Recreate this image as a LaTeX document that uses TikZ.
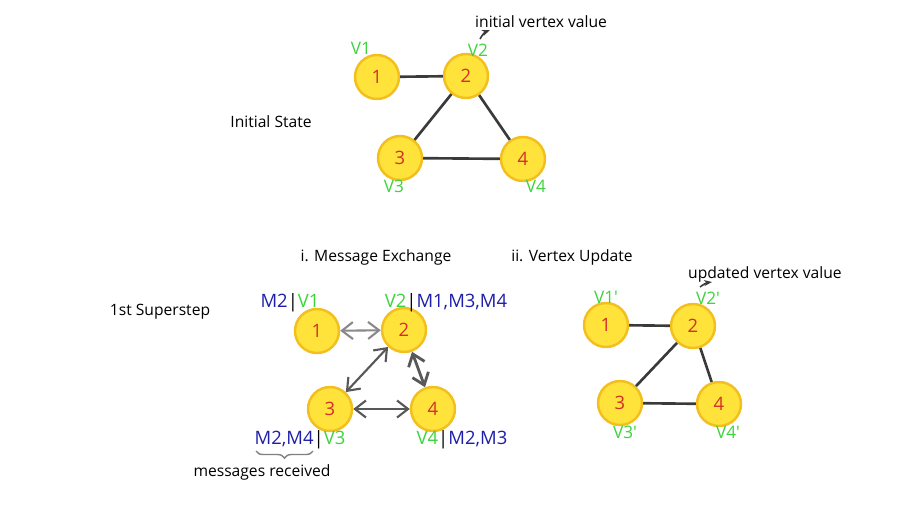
\documentclass[tikz,border=0pt]{standalone}
\usepackage{fontspec}
\setmainfont{Open Sans}
\usetikzlibrary{arrows.meta,positioning,decorations.pathreplacing}
\definecolor{vyellow}{HTML}{FFE33A}
\definecolor{vrim}{HTML}{F2BF1F}
\definecolor{vred}{HTML}{D3302A}
\definecolor{vgreen}{HTML}{3DD43D}
\definecolor{vblue}{HTML}{1E1EA8}
\definecolor{edgegray}{HTML}{3A3A3A}
\newcommand{\gv}[1]{\textcolor{vgreen}{#1}}
\newcommand{\bm}[1]{\textcolor{vblue}{#1}}

\begin{document}
\begin{tikzpicture}[
  x=0.02cm, y=-0.02cm, >={Straight Barb[length=2.2mm,width=3.4mm]},
  every node/.style={font=\fontsize{8.9}{10}\selectfont},
  vertex/.style={circle, draw=vrim, line width=1.4pt, fill=vyellow,
                 minimum size=8.8mm, inner sep=0pt, text=vred,
                 font=\fontsize{10.5}{12}\selectfont},
  edge/.style={draw=edgegray, line width=1.5pt},
  msg/.style={draw=edgegray!85, line width=1.2pt, <->},
  vlab/.style={text=vgreen, font=\fontsize{9.8}{12}\selectfont},
  mlab/.style={font=\fontsize{10.5}{12}\selectfont}
]
  \useasboundingbox (0,0) rectangle (920,525);

  % initial state
  \node (init) at (271,122) {Initial State};
  \foreach \n/\x/\y in {1/377/77, 2/466/76, 3/400/158, 4/523/159}
    \node[vertex] (a\n) at (\x,\y) {\n};
  \foreach \n/\x/\y in {1/361/48, 2/478/50, 3/394/186, 4/536/186}
    \node[vlab] (va\n) at (\x,\y) {V\n};
  \draw[edge] (a1) -- (a2);
  \draw[edge] (a2) -- (a3);
  \draw[edge] (a2) -- (a4);
  \draw[edge] (a3) -- (a4);
  \node[anchor=west] (ival) at (469,22) {initial vertex value};
  \coordinate (ip) at (480,39);
  \draw[-{Stealth[length=1.6mm]}, edgegray, line width=0.9pt] (ip) to[bend left=20] (490,30);

  % 1st superstep
  \node (step) at (160,312) {1st Superstep};
  \node (mex) at (376,257) {i. Message Exchange};
  \foreach \n/\x/\y in {1/317/331, 2/404/330, 3/330/409, 4/433/409}
    \node[vertex] (b\n) at (\x,\y) {\n};
  \node[mlab] (lb1) at (290,303) {\bm{M2}|\gv{V1}};
  \node[mlab] (lb2) at (446,303) {\gv{V2}|\bm{M1,M3,M4}};
  \node[mlab] (lb3) at (300,440) {\bm{M2,M4}|\gv{V3}};
  \node[mlab] (lb4) at (462,440) {\gv{V4}|\bm{M2,M3}};
  \draw[msg, edgegray!60] (b1) -- (b2);
  \draw[msg] (b2) -- (b3);
  \draw[msg, line width=1.6pt] (b2) -- (b4);
  \draw[msg] (b3) -- (b4);
  \coordinate (br1) at (256,451);
  \coordinate (br2) at (313,451);
  \draw[decorate, decoration={brace, mirror, amplitude=4pt}, gray, line width=0.8pt] (br1) -- (br2);
  \node (recv) at (262,472) {messages received};

  % vertex update
  \node (vup) at (572,257) {ii. Vertex Update};
  \foreach \n/\x/\y in {1/606/325, 2/693/326, 3/620/403, 4/719/404}
    \node[vertex] (c\n) at (\x,\y) {\n};
  \foreach \n/\x/\y in {1/606/297, 2/708/298, 3/625/432, 4/728/432}
    \node[vlab] (vc\n) at (\x,\y) {V\n\textquotesingle};
  \draw[edge] (c1) -- (c2);
  \draw[edge] (c2) -- (c3);
  \draw[edge] (c2) -- (c4);
  \draw[edge] (c3) -- (c4);
  \node[anchor=west] (uval) at (682,274) {updated vertex value};
  \coordinate (up) at (700,287);
  \draw[-{Stealth[length=1.6mm]}, edgegray, line width=0.9pt] (up) to[bend left=15] (712,282);
\end{tikzpicture}
\end{document}
